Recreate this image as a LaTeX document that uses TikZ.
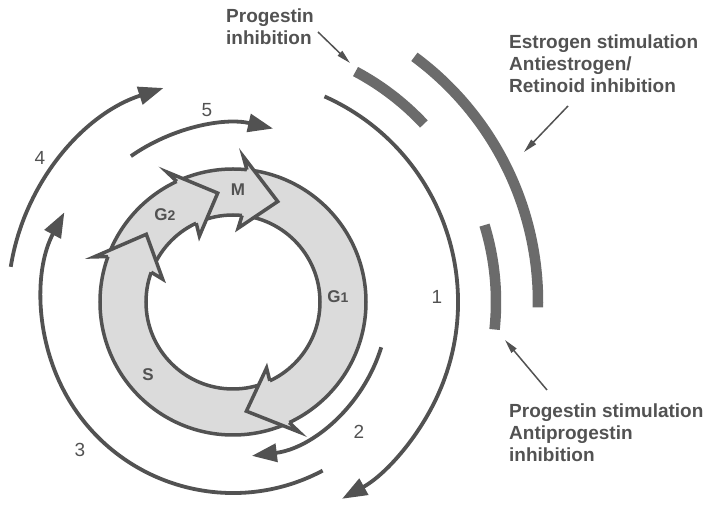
\documentclass[tikz,border=0pt]{standalone}
\usepackage{fontspec}
\setmainfont{Liberation Sans}
\usetikzlibrary{arrows.meta}
\definecolor{inkgrey}{gray}{0.32}
\definecolor{ringgrey}{gray}{0.86}
\definecolor{bandgrey}{gray}{0.42}

% arrow head of one phase of the ring: #1 tip angle, #2 base angle
\newcommand{\phasehead}[2]{%
  \path[cellline, fill=ringgrey] (#2:133) -- (#2+2:146) -- (#1:110) -- (#2+2:74) -- (#2:87);}

\begin{document}
\begin{tikzpicture}[x=1pt, y=1pt,
    note/.style={font=\bfseries\fontsize{19}{22}\selectfont, text=inkgrey, align=left, inner sep=0pt},
    num/.style={font=\fontsize{19}{19}\selectfont, text=inkgrey, inner sep=0pt},
    phase/.style={font=\bfseries\fontsize{17}{17}\selectfont, text=inkgrey, inner sep=0pt},
    cycle/.style={line width=3.8pt, draw=inkgrey, -{Triangle[length=25pt,width=18pt]}},
    band/.style={line width=10.5pt, draw=bandgrey},
    pointer/.style={line width=1.5pt, draw=inkgrey, -{Triangle[length=14pt,width=6.5pt]}},
    cellline/.style={line width=3.5pt, draw=inkgrey, line join=miter}
]
    \useasboundingbox (-233,-206) rectangle (472,302);

    % the cell cycle ring
    \fill[ringgrey, even odd rule] (0,0) circle[radius=133] (0,0) circle[radius=87];
    \draw[cellline] (0,0) circle[radius=133];
    \draw[cellline] (0,0) circle[radius=87];
    \phasehead{-83}{-65}
    \phasehead{142}{160}
    \phasehead{98}{115}
    \phasehead{66}{84}

    \node[phase] (g1) at (105,5) {G{\fontsize{14}{14}\selectfont 1}};
    \node[phase] (s) at (-85,-73) {S};
    \node[phase] (g2) at (-68,87) {G{\fontsize{14}{14}\selectfont 2}};
    \node[phase] (m) at (5,112) {M};

    % transit arrows
    \draw[cycle] (66:225) arc[start angle=66, end angle=-61, radius=225];
    \draw[cycle] (-17:155) arc[start angle=-17, end angle=-83, radius=155];
    \draw[cycle] (-62:191) arc[start angle=-62, end angle=-208, radius=191];
    \draw[cycle] (171:225) arc[start angle=171, end angle=108, radius=225];
    \draw[cycle] (125:178) arc[start angle=125, end angle=77, radius=178];

    \node[num] (n1) at (204,5) {1};
    \node[num] (n2) at (126,-130) {2};
    \node[num] (n3) at (-153,-148) {3};
    \node[num] (n4) at (-193,144) {4};
    \node[num] (n5) at (-26,192) {5};

    % hormone windows
    \draw[band] (62:261) arc[start angle=62, end angle=43, radius=261];
    \draw[band] (53.5:305) arc[start angle=53.5, end angle=-1, radius=305];
    \draw[band] (17:263) arc[start angle=17, end angle=-6, radius=263];

    \node[note, anchor=west] (proginh) at (-7,275.5) {Progestin\\inhibition};
    \node[note, anchor=west] (estro) at (276,238.5) {Estrogen stimulation\\Antiestrogen/\\Retinoid inhibition};
    \node[note, anchor=west] (progstim) at (276,-130.5) {Progestin stimulation\\Antiprogestin\\inhibition};

    \coordinate (proginhTail) at (85,270);
    \coordinate (proginhTip) at (117,239);
    \coordinate (estroTail) at (335,196);
    \coordinate (estroTip) at (291,150);
    \coordinate (progstimTail) at (314,-88);
    \coordinate (progstimTip) at (272,-38);
    \draw[pointer] (proginhTail) -- (proginhTip);
    \draw[pointer] (estroTail) -- (estroTip);
    \draw[pointer] (progstimTail) -- (progstimTip);
\end{tikzpicture}
\end{document}
